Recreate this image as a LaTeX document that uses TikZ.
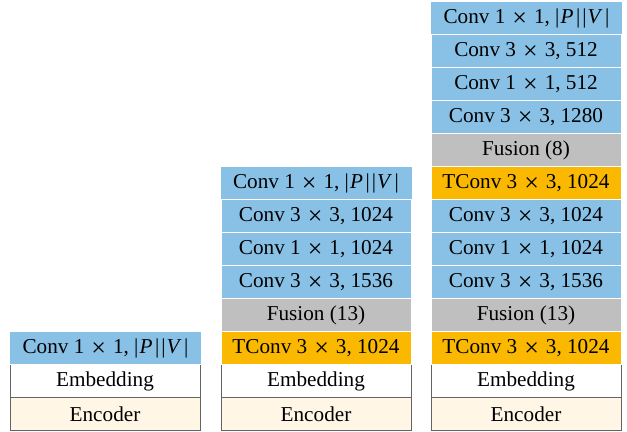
\documentclass[tikz,border=0pt]{standalone}
\usepackage{fontspec}
\setmainfont{Liberation Serif}
\definecolor{convblue}{RGB}{136,193,229}
\definecolor{tconvorange}{RGB}{250,185,0}
\definecolor{fusiongray}{RGB}{191,191,191}
\definecolor{enccream}{RGB}{255,246,229}
\definecolor{edgegray}{RGB}{100,100,100}
\newcommand{\tms}{\hspace{0.33em}\raisebox{-0.12em}{\fontsize{13}{12}\selectfont ×}\hspace{0.33em}}
\newcommand{\PVtext}{|\hspace{0.05em}\textit{P}\hspace{0.12em}|\hspace{0.1em}|\hspace{0.05em}\textit{V}\hspace{0.12em}|}
\begin{document}
\begin{tikzpicture}[x=0.5pt,y=-0.5pt,font=\fontsize{10.6}{12}\selectfont,
  row/.style={minimum width=95pt,minimum height=16.5pt,inner sep=0pt,line width=0.5pt,text=black},
  conv/.style={row,fill=convblue,draw=white},
  topconv/.style={row,fill=convblue,draw=white,minimum width=96pt},
  tconv/.style={row,fill=tconvorange,draw=white},
  fusion/.style={row,fill=fusiongray,draw=white},
  embed/.style={row,fill=white,draw=edgegray},
  enc/.style={row,fill=enccream,draw=edgegray}]
\useasboundingbox (0,0) rectangle (627,432);
% column 1
\node[enc]   (a0) at (105,414.5) {Encoder};
\node[embed] (a1) at (105,381.5) {Embedding};
\node[topconv] (a2) at (105.5,348.5) {Conv 1\tms 1, \PVtext};
% column 2
\node[enc]   (b0) at (316,414.5) {Encoder};
\node[embed] (b1) at (316,381.5) {Embedding};
\node[tconv] (b2) at (316,348.5) {TConv 3\tms 3, 1024};
\node[fusion] (b3) at (316,315.5) {Fusion (13)};
\node[conv]  (b4) at (316,282.5) {Conv 3\tms 3, 1536};
\node[conv]  (b5) at (316,249.5) {Conv 1\tms 1, 1024};
\node[conv]  (b6) at (316,216.5) {Conv 3\tms 3, 1024};
\node[topconv] (b7) at (316,183.5) {Conv 1\tms 1, \PVtext};
% column 3
\node[enc]   (c0) at (526,414.5) {Encoder};
\node[embed] (c1) at (526,381.5) {Embedding};
\node[tconv] (c2) at (526,348.5) {TConv 3\tms 3, 1024};
\node[fusion] (c3) at (526,315.5) {Fusion (13)};
\node[conv]  (c4) at (526,282.5) {Conv 3\tms 3, 1536};
\node[conv]  (c5) at (526,249.5) {Conv 1\tms 1, 1024};
\node[conv]  (c6) at (526,216.5) {Conv 3\tms 3, 1024};
\node[tconv] (c7) at (526,183.5) {TConv 3\tms 3, 1024};
\node[fusion] (c8) at (526,150.5) {Fusion (8)};
\node[conv]  (c9) at (526,117.5) {Conv 3\tms 3, 1280};
\node[conv]  (c10) at (526,84.5) {Conv 1\tms 1, 512};
\node[conv]  (c11) at (526,51.5) {Conv 3\tms 3, 512};
\node[topconv] (c12) at (526.5,18.5) {Conv 1\tms 1, \PVtext};
\end{tikzpicture}
\end{document}
